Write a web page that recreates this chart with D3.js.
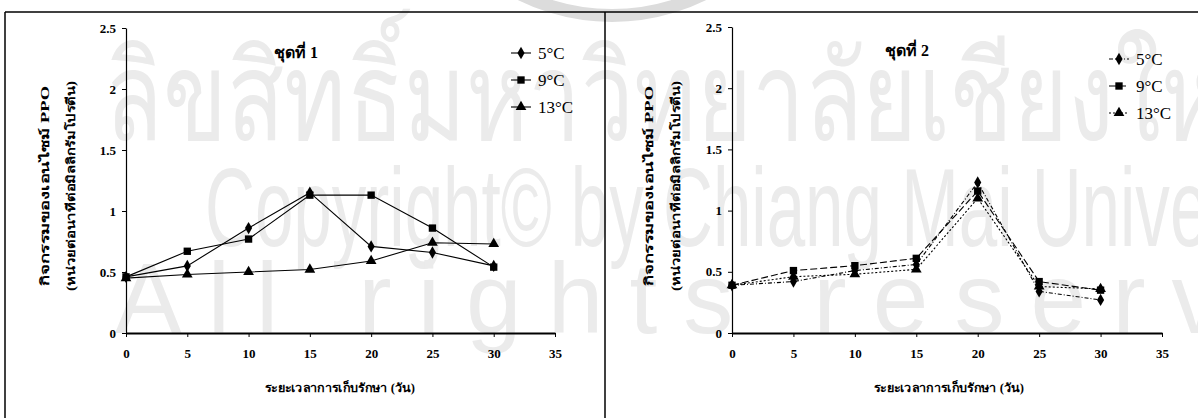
<!DOCTYPE html>
<html>
<head>
<meta charset="utf-8">
<script src="https://cdn.jsdelivr.net/npm/d3@7"></script>
<style>
  html, body { margin: 0; padding: 0; background: #fff; }
  svg { display: block; }
</style>
</head>
<body>
<div id="chart"></div>
<script>
// ข้อมูล
const days = [0, 5, 10, 15, 20, 25, 30];
const xTicks = [0, 5, 10, 15, 20, 25, 30, 35];
const yTicks = [0, 0.5, 1, 1.5, 2, 2.5];
const yTickLabels = ['0', '0.5', '1', '1.5', '2', '2.5'];
const seriesNames = ['5°C', '9°C', '13°C'];
const panelTitles = ['ชุดที่ 1', 'ชุดที่ 2'];
const yTitle = ['กิจกรรมของเอนไซม์ PPO', '(หน่วยต่อนาทีต่อมิลลิกรัมโปรตีน)'];
const xTitle = 'ระยะเวลาการเก็บรักษา (วัน)';

const set1_5C = [0.46, 0.55, 0.86, 1.15, 0.71, 0.66, 0.55];
const set1_9C = [0.46, 0.67, 0.77, 1.13, 1.13, 0.86, 0.54];
const set1_13C = [0.45, 0.48, 0.50, 0.52, 0.59, 0.74, 0.73];

const set2_5C = [0.39, 0.42, 0.51, 0.56, 1.23, 0.34, 0.27];
const set2_9C = [0.39, 0.51, 0.55, 0.61, 1.16, 0.42, 0.35];
const set2_13C = [0.39, 0.46, 0.48, 0.52, 1.10, 0.38, 0.36];

const watermarkLines = ['ลิขสิทธิ์มหาวิทยาลัยเชียงใหม่', 'Copyright© by Chiang Mai University', 'All rights reserved'];

const W = 1198, H = 418;
const serif = "'Liberation Serif', 'Times New Roman', serif";
const narrow = "'Liberation Sans Narrow', 'Liberation Sans', sans-serif";

const svg = d3.select('#chart').append('svg')
  .attr('width', W)
  .attr('height', H);

// ลายน้ำ
const wm = svg.append('g').attr('fill', '#ebebeb');
wm.append('path')
  .attr('d', d3.arc()({ innerRadius: 200, outerRadius: 213, startAngle: Math.PI * 0.62, endAngle: Math.PI * 1.38 }))
  .attr('transform', 'translate(612,-191)')
  .attr('fill', '#dcdcdc');
wm.append('text')
  .attr('x', 105).attr('y', 140)
  .attr('font-family', "'Noto Sans', sans-serif")
  .attr('font-size', 124)
  .attr('textLength', 1180)
  .attr('lengthAdjust', 'spacingAndGlyphs')
  .text(watermarkLines[0]);
wm.append('text')
  .attr('x', 205).attr('y', 246)
  .attr('font-family', narrow)
  .attr('font-size', 112)
  .attr('textLength', 1130)
  .attr('lengthAdjust', 'spacingAndGlyphs')
  .text(watermarkLines[1]);
wm.append('text')
  .attr('x', 115).attr('y', 333)
  .attr('font-family', narrow)
  .attr('font-size', 100)
  .attr('textLength', 1270)
  .attr('lengthAdjust', 'spacing')
  .text(watermarkLines[2]);

// กรอบ
svg.append('line').attr('x1', 5).attr('x2', W).attr('y1', 12).attr('y2', 12)
  .attr('stroke', '#000').attr('stroke-width', 1.5);
svg.append('line').attr('x1', 5).attr('x2', 5).attr('y1', 12).attr('y2', H)
  .attr('stroke', '#000').attr('stroke-width', 1.5);
svg.append('line').attr('x1', 605).attr('x2', 605).attr('y1', 12).attr('y2', H)
  .attr('stroke', '#000').attr('stroke-width', 1.5);

const symbols = [d3.symbolDiamond, d3.symbolSquare, d3.symbolTriangle];
const symbolSizes = [44, 54, 50];

const panels = [
  {
    x0: 126, x1: 555, y0: 333, y1: 28,
    titleX: 296, titleY: 53,
    legendX: 511, legendRows: [53, 80, 107],
    yTitleX: [46, 72], xTitleX: 340,
    series: [set1_5C, set1_9C, set1_13C],
    dashes: [null, null, null],
    title: panelTitles[0]
  },
  {
    x0: 732, x1: 1162, y0: 333, y1: 27,
    titleX: 907, titleY: 51,
    legendX: 1109, legendRows: [59, 86, 113],
    yTitleX: [650, 677], xTitleX: 949,
    series: [set2_5C, set2_9C, set2_13C],
    dashes: ['4,2,1,2', '7,3', '2,2'],
    title: panelTitles[1]
  }
];

panels.forEach(p => drawPanel(p));

function drawPanel(p) {
  const x = d3.scaleLinear().domain([0, 35]).range([p.x0, p.x1]);
  const y = d3.scaleLinear().domain([0, 2.5]).range([p.y0, p.y1]);
  const g = svg.append('g');

  // แกน
  const yAxis = g.append('g')
    .attr('transform', `translate(${p.x0},0)`)
    .call(d3.axisLeft(y).tickValues(yTicks).tickFormat((d, i) => yTickLabels[i]).tickSize(4).tickPadding(6).tickSizeOuter(0));
  const xAxis = g.append('g')
    .attr('transform', `translate(0,${p.y0})`)
    .call(d3.axisBottom(x).tickValues(xTicks).tickSize(4).tickPadding(12).tickSizeOuter(0));
  [yAxis, xAxis].forEach(a => {
    a.select('.domain').attr('stroke', '#000').attr('stroke-width', 1.2);
    a.selectAll('.tick line').attr('stroke', '#000');
    a.selectAll('.tick text')
      .attr('font-family', serif)
      .attr('font-size', 13)
      .attr('font-weight', 'bold')
      .attr('fill', '#000');
  });
  xAxis.select('.domain').attr('stroke-width', 2);

  // ชื่อแกน
  const yLens = [200, 210];
  yTitle.forEach((t, i) => {
    g.append('text')
      .attr('transform', `translate(${p.yTitleX[i]},186) rotate(-90)`)
      .attr('x', -yLens[i] / 2)
      .attr('dominant-baseline', 'middle')
      .attr('font-family', serif)
      .attr('font-size', 12)
      .attr('font-weight', 'bold')
      .attr('textLength', yLens[i])
      .attr('lengthAdjust', 'spacingAndGlyphs')
      .text(t);
  });
  g.append('text')
    .attr('x', p.xTitleX - 75).attr('y', 392)
    .attr('font-family', serif)
    .attr('font-size', 12)
    .attr('font-weight', 'bold')
    .attr('textLength', 150)
    .attr('lengthAdjust', 'spacingAndGlyphs')
    .text(xTitle);

  // หัวเรื่อง
  g.append('text')
    .attr('x', p.titleX).attr('y', p.titleY + 5)
    .attr('text-anchor', 'middle')
    .attr('font-family', serif)
    .attr('font-size', 16)
    .attr('font-weight', 'bold')
    .text(p.title);

  // เส้นข้อมูล
  const line = d3.line().x((d, i) => x(days[i])).y(d => y(d));
  p.series.forEach((vals, s) => {
    g.append('path')
      .datum(vals)
      .attr('d', line)
      .attr('fill', 'none')
      .attr('stroke', '#000')
      .attr('stroke-width', 1.1)
      .attr('stroke-dasharray', p.dashes[s]);
    g.selectAll(null)
      .data(vals)
      .enter()
      .append('path')
      .attr('d', d3.symbol().type(symbols[s]).size(symbolSizes[s]))
      .attr('transform', (d, i) => `translate(${x(days[i])},${y(d)})`)
      .attr('fill', '#000');
  });

  // คำอธิบาย
  seriesNames.forEach((name, s) => {
    const ly = p.legendRows[s];
    g.append('line')
      .attr('x1', p.legendX).attr('x2', p.legendX + 20)
      .attr('y1', ly).attr('y2', ly)
      .attr('stroke', '#000')
      .attr('stroke-width', 1.1)
      .attr('stroke-dasharray', p.dashes[s]);
    g.append('path')
      .attr('d', d3.symbol().type(symbols[s]).size(symbolSizes[s]))
      .attr('transform', `translate(${p.legendX + 10},${ly})`)
      .attr('fill', '#000');
    g.append('text')
      .attr('x', p.legendX + 27).attr('y', ly)
      .attr('dy', '0.35em')
      .attr('font-family', serif)
      .attr('font-size', 17)
      .text(name);
  });
}
</script>
</body>
</html>
